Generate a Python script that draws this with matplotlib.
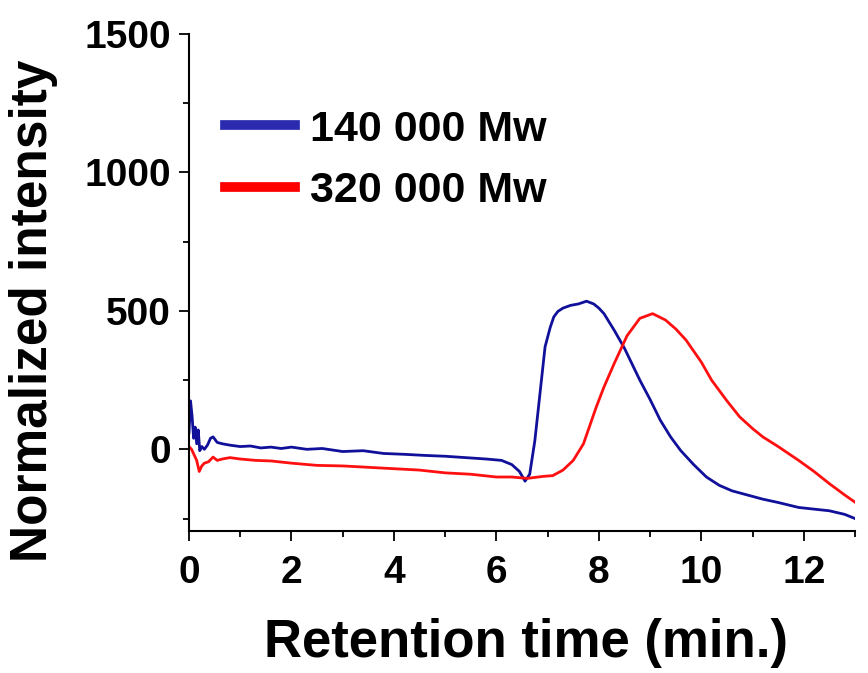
import matplotlib
matplotlib.use("Agg")
import matplotlib.pyplot as plt
from matplotlib.ticker import MultipleLocator

plt.rcParams['font.family'] = ['Liberation Sans', 'DejaVu Sans']
plt.rcParams['font.weight'] = 'bold'

# Blue: 140 000 Mw
t_blue = [0, 0.03, 0.06, 0.09, 0.12, 0.15, 0.18, 0.21, 0.25, 0.3, 0.36, 0.42, 0.47,
          0.55, 0.65, 0.8, 1.0, 1.2, 1.4, 1.6, 1.8, 2.0, 2.3, 2.6, 3.0, 3.4, 3.8,
          4.2, 4.6, 5.0, 5.4, 5.8, 6.1, 6.3, 6.45, 6.56, 6.65, 6.75, 6.85, 6.95,
          7.05, 7.12, 7.2, 7.3, 7.45, 7.6, 7.76, 7.9, 8.0, 8.1, 8.3, 8.5, 8.8, 9.0,
          9.2, 9.4, 9.6, 9.85, 10.1, 10.35, 10.6, 10.9, 11.2, 11.5, 11.9, 12.2,
          12.5, 12.8, 13.0]
v_blue = [60, 175, 120, 40, 80, 20, 70, -5, 10, 0, 15, 40, 45,
          25, 20, 15, 10, 12, 5, 8, 3, 8, 0, 3, -8, -5, -15,
          -18, -22, -25, -30, -35, -40, -55, -80, -115, -90, 30, 200, 370,
          440, 478, 498, 510, 520, 525, 535, 525, 510, 490, 430, 365, 250, 180,
          105, 45, -5, -55, -100, -130, -150, -165, -180, -192, -210, -216,
          -222, -235, -250]

# Red: 320 000 Mw
t_red = [0, 0.05, 0.1, 0.15, 0.2, 0.25, 0.3, 0.38, 0.47, 0.55, 0.65, 0.8, 1.0,
         1.3, 1.6, 2.0, 2.5, 3.0, 3.5, 4.0, 4.5, 5.0, 5.5, 6.0, 6.3, 6.6, 6.9,
         7.1, 7.3, 7.5, 7.7, 7.95, 8.1, 8.3, 8.55, 8.8, 9.05, 9.3, 9.5, 9.7,
         10.0, 10.2, 10.5, 10.75, 11.0, 11.2, 11.5, 11.9, 12.2, 12.5, 12.8, 13.0]
v_red = [10, 0, -20, -40, -80, -60, -50, -45, -28, -40, -35, -30, -35,
         -40, -42, -50, -58, -60, -65, -70, -75, -85, -90, -100, -100, -105, -98,
         -95, -75, -40, 20, 153, 225, 310, 410, 473, 490, 467, 435, 395,
         315, 250, 175, 117, 75, 45, 10, -40, -80, -124, -165, -191]

labels = ['140 000 Mw', '320 000 Mw']
colors = ['#10109a', '#ff1010']
x_ticks = [0, 2, 4, 6, 8, 10, 12]
y_ticks = [0, 500, 1000, 1500]

fig = plt.figure(figsize=(8.68, 6.73), dpi=100)
ax = fig.add_axes([189/868, 1-531/673, (855-189)/868, (531-34)/673])

ax.plot(t_blue, v_blue, color=colors[0], lw=2.0, label=labels[0])
ax.plot(t_red, v_red, color=colors[1], lw=2.0, label=labels[1])

ax.set_xlim(0, 13)
ax.set_ylim(-295, 1500)
ax.set_xticks(x_ticks)
ax.set_yticks(y_ticks)
ax.xaxis.set_minor_locator(MultipleLocator(1))
ax.yaxis.set_minor_locator(MultipleLocator(250))

for s in ['top', 'right']:
    ax.spines[s].set_visible(False)
for s in ['left', 'bottom']:
    ax.spines[s].set_linewidth(1.5)

ax.tick_params(which='major', direction='out', length=7.2, width=1.3, labelsize=28)
ax.tick_params(which='minor', direction='out', length=4.5, width=1.3)
ax.tick_params(axis='x', which='major', pad=10)
ax.tick_params(axis='y', which='major', pad=6)
for lab in ax.get_xticklabels() + ax.get_yticklabels():
    lab.set_fontweight('bold')

ax.set_xlabel('Retention time (min.)', fontsize=38, fontweight='bold')
ax.set_ylabel('Normalized intensity', fontsize=37, fontweight='bold')
ax.xaxis.set_label_coords(0.506, -0.175)
ax.yaxis.set_label_coords(-0.197, 0.444)

leg = ax.legend(loc='upper left', bbox_to_anchor=(0.054, 0.848), frameon=False,
                fontsize=31, handlelength=1.62, handletextpad=0.36,
                labelspacing=0.5, borderpad=0, borderaxespad=0)
leg_colors = ['#2b2bb0', '#ff0000']
for h, c in zip(leg.get_lines(), leg_colors):
    h.set_linewidth(7)
    h.set_color(c)
for tx in leg.get_texts():
    tx.set_fontweight('bold')

fig.savefig('out.png', dpi=100)
